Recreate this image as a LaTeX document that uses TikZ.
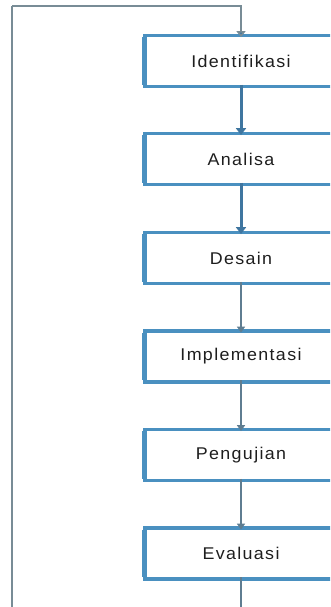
\documentclass[tikz,border=0pt]{standalone}
\usepackage{fontspec}
\setmainfont{Liberation Sans}
\newfontfamily\lblfont[LetterSpace=8,FakeStretch=1.05]{Liberation Sans}
\usetikzlibrary{arrows.meta}
\definecolor{boxblue}{RGB}{74,144,192}
\definecolor{arrowblue}{RGB}{63,118,160}
\definecolor{thinline}{RGB}{95,125,145}
\definecolor{loopline}{RGB}{120,140,150}
\definecolor{txt}{RGB}{30,30,30}
\tikzset{
  stagebox/.style={rectangle, draw=boxblue, line width=3.2pt, fill=white,
    minimum width=192pt, minimum height=51pt, inner sep=0pt, outer sep=0pt,
    font=\lblfont\fontsize{17}{19}\selectfont, text=txt},
  thickarrow/.style={draw=arrowblue, line width=3pt, -{Triangle[width=10pt,length=7pt]}},
  thinarrow/.style={draw=thinline, line width=1.6pt, -{Triangle[width=8pt,length=6pt]}},
  loopline/.style={draw=loopline, line width=1.8pt},
}
\begin{document}
\begin{tikzpicture}[x=1pt,y=-1pt]
\useasboundingbox (0,0) rectangle (330,607);
\clip (0,0) rectangle (330,607);
\fill[white] (0,0) rectangle (330,607);
\node[stagebox] (n1) at (241,61) {Identifikasi};
\node[stagebox] (n2) at (241,159) {Analisa};
\node[stagebox] (n3) at (241,258) {Desain};
\node[stagebox] (n4) at (241,356.5) {Implementasi};
\node[stagebox] (n5) at (241,455) {Pengujian};
\node[stagebox] (n6) at (241,553.5) {Evaluasi};
\foreach \n in {n1,n2,n3,n4,n5,n6}{
  \draw[boxblue, line width=2.4pt] ([xshift=-1.6pt,yshift=-1.6pt]\n.north west) -- ([xshift=-1.6pt,yshift=1.6pt]\n.south west);
}
\draw[thickarrow] ([yshift=1.6pt]n1.south) -- ([yshift=-1.6pt]n2.north);
\draw[thickarrow] ([yshift=1.6pt]n2.south) -- ([yshift=-1.6pt]n3.north);
\draw[thinarrow] ([yshift=1.6pt]n3.south) -- ([yshift=-1.6pt]n4.north);
\draw[thinarrow] ([yshift=1.6pt]n4.south) -- ([yshift=-1.6pt]n5.north);
\draw[thinarrow] ([yshift=1.6pt]n5.south) -- ([yshift=-1.6pt]n6.north);
\coordinate (tl) at (12,6);
\coordinate (bl) at (12,610);
\coordinate (bb) at (241,610);
\draw[loopline] (bl) -- (tl);
\draw[loopline, -{Triangle[width=9pt,length=6pt,fill=arrowblue]}] (tl) -| ([yshift=-1.6pt]n1.north);
\draw[thinarrow, -] ([yshift=1.6pt]n6.south) -- (bb);
\end{tikzpicture}
\end{document}
